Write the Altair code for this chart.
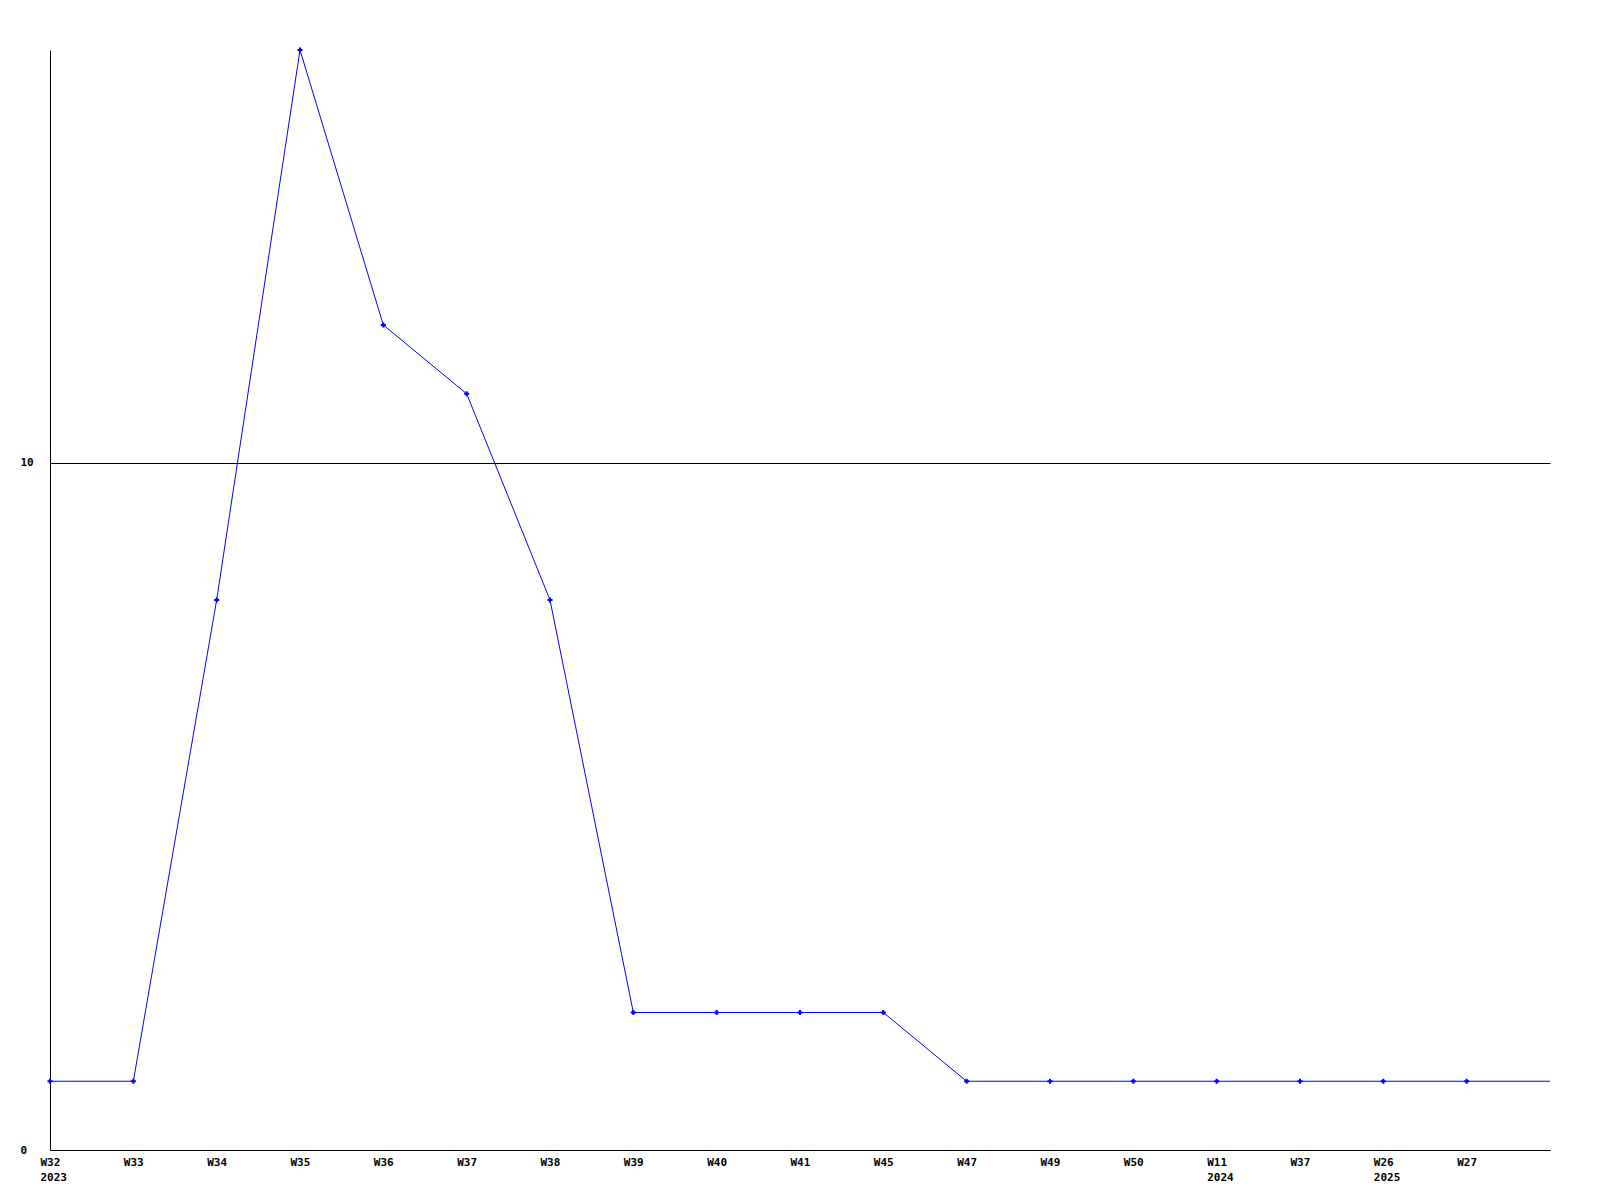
import json
import altair as alt
import pandas as pd

weeks = ["W32", "W33", "W34", "W35", "W36", "W37", "W38", "W39", "W40",
         "W41", "W45", "W47", "W49", "W50", "W11", "W37", "W26", "W27"]
years = ["2023", "", "", "", "", "", "", "", "", "", "", "", "", "", "2024", "", "2025", ""]
values = [1, 1, 8, 16, 12, 11, 8, 2, 2, 2, 2, 1, 1, 1, 1, 1, 1, 1]
# the line continues to the right edge of the plot at the last value
tail_value = 1

pts = pd.DataFrame({"i": list(range(len(values))), "v": values})
line_df = pd.DataFrame({"i": list(range(len(values) + 1)), "v": values + [tail_value]})

label_expr = "[" + json.dumps(weeks) + "[datum.value], " + json.dumps(years) + "[datum.value]]"

font = "DejaVu Sans Mono"

x = alt.X("i:Q", scale=alt.Scale(domain=[0, len(values)], nice=False, zero=False),
          axis=alt.Axis(values=list(range(len(values))), labelExpr=label_expr, title=None,
                        grid=False, ticks=False, domainColor="black", domainWidth=1,
                        labelFont=font, labelFontWeight="bold", labelFontSize=11,
                        labelColor="black", labelAlign="left", labelOffset=-10,
                        labelLineHeight=15, labelPadding=6, labelBaseline="top",
                        labelOverlap=False, labelFlush=False))
y = alt.Y("v:Q", scale=alt.Scale(domain=[0, 16], nice=False),
          axis=alt.Axis(values=[0, 10], title=None, grid=True, gridColor="black",
                        gridWidth=1, gridOpacity=1, ticks=False, domainColor="black",
                        domainWidth=1, labelFont=font, labelFontWeight="bold",
                        labelFontSize=11, labelColor="black", labelAlign="left",
                        labelPadding=30, labelBaseline="middle"))

line = alt.Chart(line_df).mark_line(color="#0000ff", strokeWidth=1).encode(x=x, y=y)
points = alt.Chart(pts).mark_point(shape="cross", filled=True, color="#0000ff",
                                   size=26, opacity=1).encode(x=x, y=y)

chart = (line + points).properties(
    width=1500, height=1100,
    autosize=alt.AutoSizeParams(type="none"),
    padding={"left": 42, "top": 42, "right": 42, "bottom": 42},
    background="white",
).configure_view(strokeWidth=0)

chart.save("out.html", embed_options={"renderer": "svg", "actions": False})
